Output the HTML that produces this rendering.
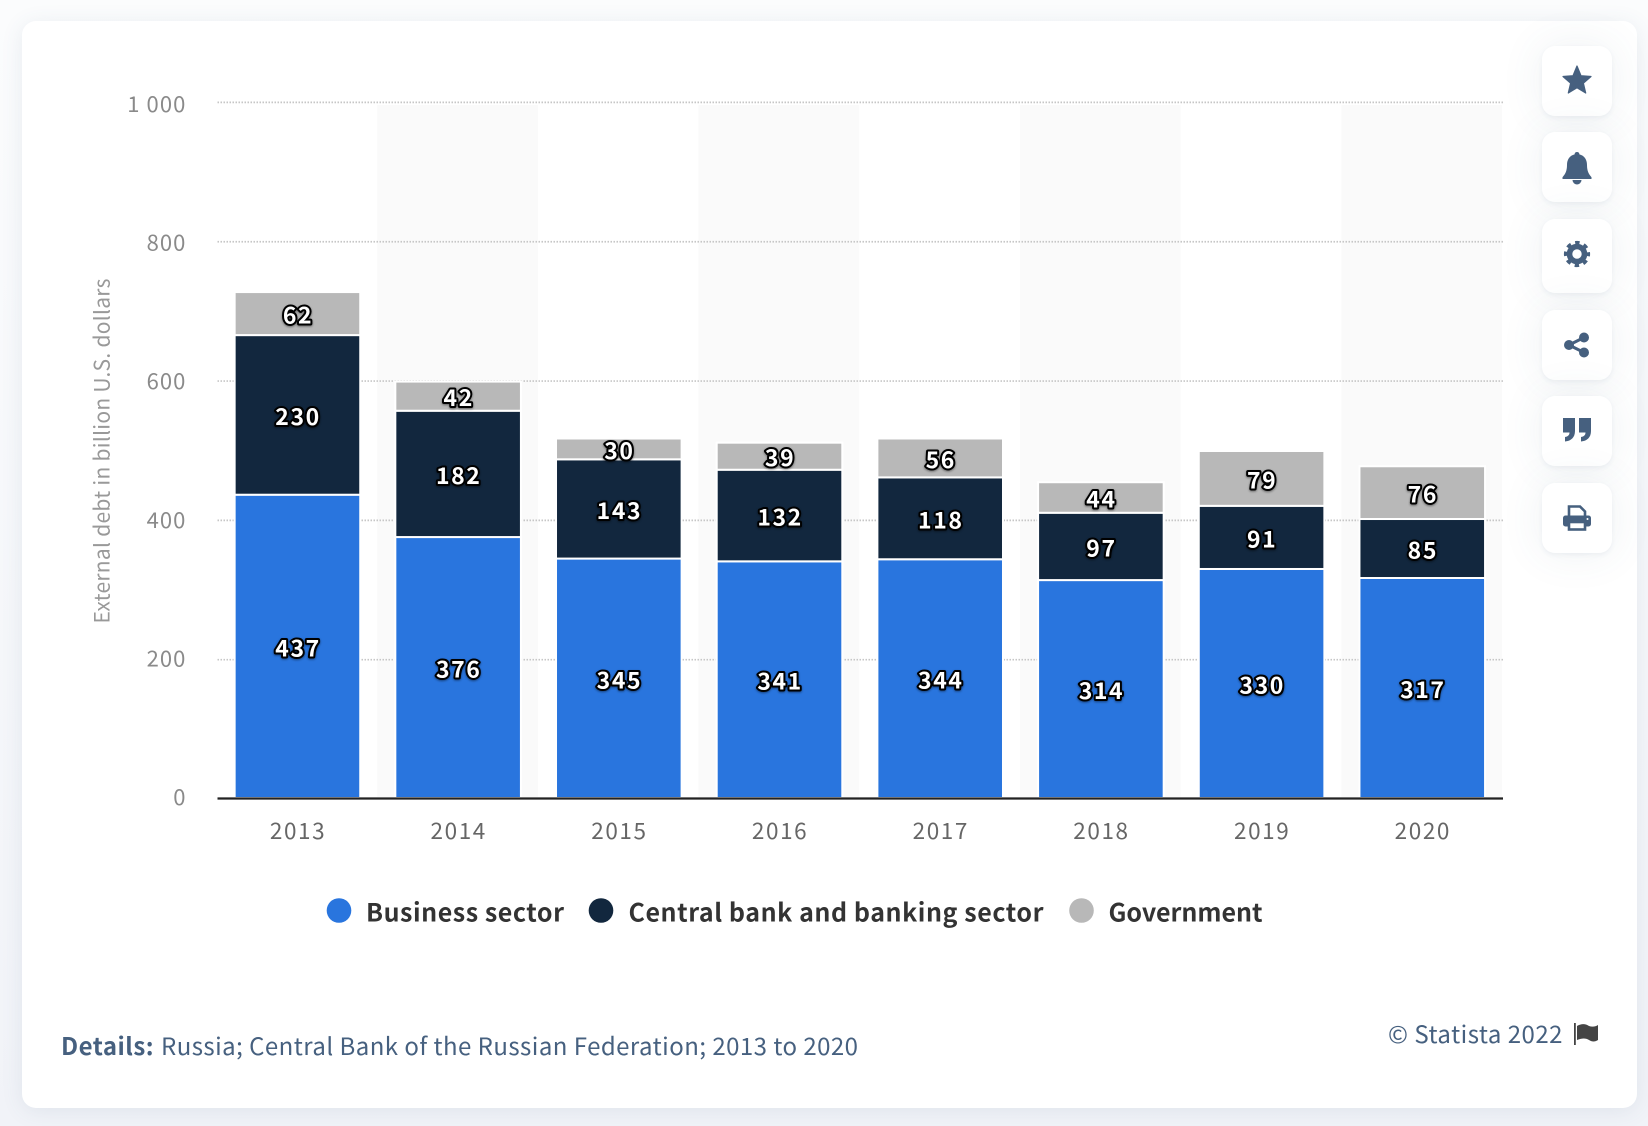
<!DOCTYPE html>
<html lang="en">
<head>
<meta charset="utf-8">
<title>External debt of Russia 2013 to 2020</title>
<style>
html,body{margin:0;padding:0;width:1648px;height:1126px;overflow:hidden;background:linear-gradient(180deg,#fbfcfd 0%,#f1f3f8 100%);font-family:"Liberation Sans",sans-serif;}
#card{position:absolute;left:22px;top:21px;width:1615px;height:1087px;background:#fff;border-radius:14px;box-shadow:0 3px 22px rgba(70,96,127,.10);}
.tool{position:absolute;left:1542px;width:70px;background:#fff;border-radius:13px;box-shadow:0 2px 5px rgba(70,96,127,.07),0 0 44px rgba(70,96,127,.09);}
.tool svg{position:absolute;left:0;top:0;width:70px;height:100%;fill:#46607f;}
#chart{position:absolute;left:0;top:0;width:1648px;height:1126px;}
#chart text{font-family:"Noto Sans CJK JP","Liberation Sans",sans-serif;}
.val{font-weight:bold;font-size:23px;letter-spacing:1.6px;fill:#fff;stroke:#000;stroke-width:4px;paint-order:stroke fill;stroke-linejoin:round;text-anchor:middle;filter:drop-shadow(0 1px 1px rgba(0,0,0,.45));}
.ytick{font-size:22px;letter-spacing:1.1px;fill:#8a8a8a;text-anchor:end;}
.xtick{font-size:22.5px;letter-spacing:1.6px;fill:#666;text-anchor:middle;}
.leg{font-size:25px;font-weight:bold;fill:#333;}
</style>
</head>
<body>
<div id="card"></div>

<svg id="chart" viewBox="0 0 1648 1126">
  <g id="bands"></g>
  <g id="grid"></g>
  <g id="bars"></g>
  <line x1="217.5" x2="1503" y1="798.5" y2="798.5" stroke="#222" stroke-width="2.2"></line>
  <g id="labels"></g>
  <g id="yticks"></g>
  <g id="xticks"></g>
  <text transform="translate(109.500,451) rotate(-90)" text-anchor="middle" font-size="21" fill="#999" textLength="345" lengthAdjust="spacing">External debt in billion U.S. dollars</text>
  <g id="legend"></g>
  <text x="61" y="1055" font-size="24" font-weight="bold" fill="#46607f" textLength="92.500" lengthAdjust="spacing">Details:</text>
  <text x="161" y="1055" font-size="24" fill="#46607f" textLength="697" lengthAdjust="spacing">Russia; Central Bank of the Russian Federation; 2013 to 2020</text>
  <text x="1388" y="1043" font-size="24" fill="#46607f" textLength="174.500" lengthAdjust="spacing">© Statista 2022</text>
  <g>
    <rect x="1574" y="1023" width="1.8" height="22" fill="#444"></rect>
    <path d="M1577 1026c5-3 9-2 12 0 3 1 6 1 9-1v15c-3 2-6 2-9 0-3-2-7-2-12 0z" fill="#444"></path>
  </g>
</svg>

<div class="tool" style="top:46px;height:70px">
  <svg viewBox="0 0 70 70"><polygon stroke="#46607f" stroke-width="1.2" stroke-linejoin="round" points="35,20 39,29.700 49,30.500 41.400,37.200 43.700,47 35,41.700 26.300,47 28.600,37.200 21,30.500 31,29.700"/></svg>
</div>
<div class="tool" style="top:132px;height:70px">
  <svg viewBox="0 0 70 70"><path d="M35 20c1.500 0 2.400 1 2.400 2.400 5 1.200 7.600 5.200 7.600 10.600 0 6 1.800 9.200 4.500 12.200v1.800h-29v-1.800c2.700-3 4.500-6.200 4.500-12.200 0-5.400 2.600-9.400 7.600-10.600 0-1.400.9-2.400 2.400-2.400z"/><path d="M30.500 48h9a4.500 4.500 0 0 1-9 0z"/></svg>
</div>
<div class="tool" style="top:218.500px;height:74px">
  <svg viewBox="0 0 70 74"><circle cx="35" cy="35" r="7.500" fill="none" stroke="#46607f" stroke-width="5.600"/><circle cx="35" cy="35" r="11" fill="none" stroke="#46607f" stroke-width="4.200" stroke-dasharray="4.320 4.320" stroke-dashoffset="2.160"/></svg>
</div>
<div class="tool" style="top:309.500px;height:70px">
  <svg viewBox="0 0 70 70"><circle cx="42" cy="27.500" r="5"/><circle cx="27" cy="35" r="5"/><circle cx="42" cy="42.500" r="5"/><path d="M27 35 42 27.500M27 35 42 42.500" stroke="#46607f" stroke-width="3" fill="none"/></svg>
</div>
<div class="tool" style="top:396px;height:70px">
  <svg viewBox="0 0 70 70"><path d="M21 22h12v13c0 6.500-4 10-10 10.500v-4.500c3-.5 4.500-2 4.500-4.500H21z"/><path d="M37 22h12v13c0 6.500-4 10-10 10.500v-4.500c3-.5 4.500-2 4.500-4.500H37z"/></svg>
</div>
<div class="tool" style="top:482.500px;height:70px">
  <svg viewBox="0 0 70 70"><path d="M27 33V23.500h11l5 5V33" fill="none" stroke="#46607f" stroke-width="2.600"/><rect x="21" y="32.500" width="28" height="11" rx="2.500"/><rect x="27" y="39" width="16" height="7.500" fill="#fff" stroke="#46607f" stroke-width="2.600"/><circle cx="45.500" cy="36" r="1" fill="#fff"/></svg>
</div>

<script>
var categories = ["2013", "2014", "2015", "2016", "2017", "2018", "2019", "2020"];
var businessSector = [437, 376, 345, 341, 344, 314, 330, 317];
var centralBankAndBanking = [230, 182, 143, 132, 118, 97, 91, 85];
var government = [62, 42, 30, 39, 56, 44, 79, 76];
var yTicks = [0, 200, 400, 600, 800, 1000];
var yTickLabels = ["0", "200", "400", "600", "800", "1 000"];
var seriesNames = ["Business sector", "Central bank and banking sector", "Government"];

var NS = "http://www.w3.org/2000/svg";
var plotLeft = 217.5, plotRight = 1503;
var bandW = (plotRight - plotLeft) / categories.length;
var colors = ["#2975de", "#12273e", "#b8b8b8"];

function xBand(i) { return plotLeft + bandW * i; }
function xCenter(i) { return xBand(i) + bandW / 2 - 0.4; }
function yBar(v) { return 798 - v * 0.694; }
function yGrid(v) { return 799 - v * 0.6966; }
function yTickText(v) { return 805 - v * 0.693; }
function make(tag, attrs, parent, text) {
  var el = document.createElementNS(NS, tag);
  for (var k in attrs) { el.setAttribute(k, attrs[k]); }
  if (text !== undefined) { el.textContent = text; }
  parent.appendChild(el);
  return el;
}

var bandsG = document.getElementById("bands");
var gridG = document.getElementById("grid");
var barsG = document.getElementById("bars");
var labelsG = document.getElementById("labels");
var yG = document.getElementById("yticks");
var xG = document.getElementById("xticks");
var legendG = document.getElementById("legend");

categories.forEach(function (cat, i) {
  if (i % 2 === 1) {
    var band = make("rect", { x: xBand(i) - 1, y: 105, width: bandW, height: 692, fill: "#fafafa" }, bandsG);
    
    
  }
});

yTicks.forEach(function (v, i) {
  if (v !== 0) {
    var line = make("line", { x1: plotLeft, x2: plotRight, y1: yGrid(v), y2: yGrid(v), stroke: "#c6c6c6", "stroke-width": 1.7, "stroke-dasharray": "1.5 1.5" }, gridG);
    
    
  }
  var label = make("text", { x: 186.5, y: yTickText(v), "class": "ytick" }, yG, yTickLabels[i]);
  
  
});

var seriesData = [businessSector, centralBankAndBanking, government];
var seriesKeys = ["business", "banking", "government"];

categories.forEach(function (cat, i) {
  var base = 0;
  seriesData.forEach(function (values, s) {
    var v = values[i];
    var top = yBar(base + v), bottom = yBar(base);
    var rect = make("rect", { x: xCenter(i) - 62.8, y: top, width: 125.6, height: bottom - top, fill: colors[s], stroke: "#fff", "stroke-width": 2 }, barsG);
    
    
    var text = make("text", { x: xCenter(i) + 0.6, y: (top + bottom) / 2 + 10, "class": "val" }, labelsG, String(v));
    
    
    base += v;
  });
  var tick = make("text", { x: xCenter(i) + 0.6, y: 839, "class": "xtick" }, xG, cat);
  
  
});

var legendLayout = [
  { cx: 339, tx: 366, w: 198 },
  { cx: 601, tx: 628.5, w: 415 },
  { cx: 1081.5, tx: 1108.5, w: 154 }
];
seriesNames.forEach(function (name, s) {
  var g = make("g", {}, legendG);
  
  
  var dot = make("circle", { cx: legendLayout[s].cx, cy: 910.5, r: 12.3, fill: colors[s] }, g);
  
  
  var t = make("text", { x: legendLayout[s].tx, y: 921.5, "class": "leg", textLength: legendLayout[s].w, lengthAdjust: "spacing" }, g, name);
  
  
});
</script>
</body>
</html>
